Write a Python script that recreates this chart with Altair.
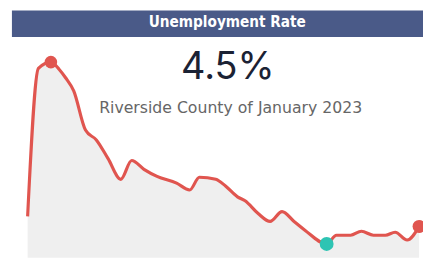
import altair as alt
import pandas as pd

# month offsets from the first observation and unemployment rate (%)
months = [0, 0.99, 2.14, 2.89, 3.49, 4.24, 5.32, 6.32, 7.4, 8.57, 9.57, 10.7, 11.9,
          13.7, 14.9, 15.8, 17.3, 18.2, 19.3, 20.0, 21.2, 22.3, 23.4, 24.5, 25.5,
          27.5, 28.4, 29.7, 30.7, 31.8, 32.9, 33.8, 34.9, 36.0]
rates = [4.98, 12.08, 12.38, 12.04, 11.63, 11.0, 9.12, 8.65, 7.75, 6.76, 7.66, 7.24, 6.9,
         6.58, 6.25, 6.86, 6.76, 6.44, 5.92, 5.73, 5.12, 4.74, 5.21, 4.74, 4.32,
         3.66, 4.08, 4.08, 4.27, 4.08, 4.08, 4.22, 3.85, 4.5]

title_text = "Unemployment Rate"
kpi_text = "4.5%"
subtitle_text = "Riverside County of January 2023"

df = pd.DataFrame({"t": months, "rate": rates})
imax = rates.index(max(rates))
imin = rates.index(min(rates))
ilast = len(rates) - 1

Y_MIN, Y_MAX = 3.0, 13.35
xs = alt.Scale(domain=[0, 36], nice=False, zero=False)
ys = alt.Scale(domain=[Y_MIN, Y_MAX], nice=False, zero=False)
X = alt.X("t:Q", scale=xs, axis=None)
Y = alt.Y("rate:Q", scale=ys, axis=None)

base = alt.Chart(df)
area = base.mark_area(color="#efefef", interpolate="monotone").encode(
    x=X, y=Y, y2=alt.datum(Y_MIN),
)
line = base.mark_line(color="#e0554f", strokeWidth=3.2, interpolate="monotone").encode(x=X, y=Y)


def dot(i, color, size):
    d = pd.DataFrame({"t": [months[i]], "rate": [rates[i]]})
    return alt.Chart(d).mark_circle(opacity=1, color=color, size=size).encode(x=X, y=Y)


p_max = dot(imax, "#e0554f", 165)
p_min = dot(imin, "#2ec4b3", 200)
p_last = dot(ilast, "#e0554f", 175)

bar = alt.Chart(pd.DataFrame({"a": [0]})).mark_rect(color="#4a5a88").encode(
    x=alt.value(-16), x2=alt.value(404), y=alt.value(-32), y2=alt.value(-5)
)
title = alt.Chart(pd.DataFrame({"s": [title_text]})).mark_text(
    font="DejaVu Sans Condensed", fontWeight="bold", fontSize=15.5, color="white",
    baseline="alphabetic", align="center"
).encode(text="s:N", x=alt.value(203.5), y=alt.value(-15))
kpi = alt.Chart(pd.DataFrame({"s": [kpi_text]})).mark_text(
    font="Inter", fontSize=38.5, color="#1b2234", baseline="alphabetic", align="center"
).encode(text="s:N", x=alt.value(204), y=alt.value(38.3))
sub = alt.Chart(pd.DataFrame({"s": [subtitle_text]})).mark_text(
    font="DejaVu Sans", fontSize=16, color="#666666", baseline="alphabetic", align="center"
).encode(text="s:N", x=alt.value(207), y=alt.value(72.7))

chart = alt.layer(area, line, p_max, p_min, p_last, bar, title, kpi, sub).properties(
    width=399, height=220,
    padding={"left": 20, "top": 32, "right": 4, "bottom": 12},
    autosize=alt.AutoSizeParams(type="none"),
    background="white",
).configure_view(stroke=None)

chart.save("out.html", embed_options={"renderer": "svg", "actions": False})
